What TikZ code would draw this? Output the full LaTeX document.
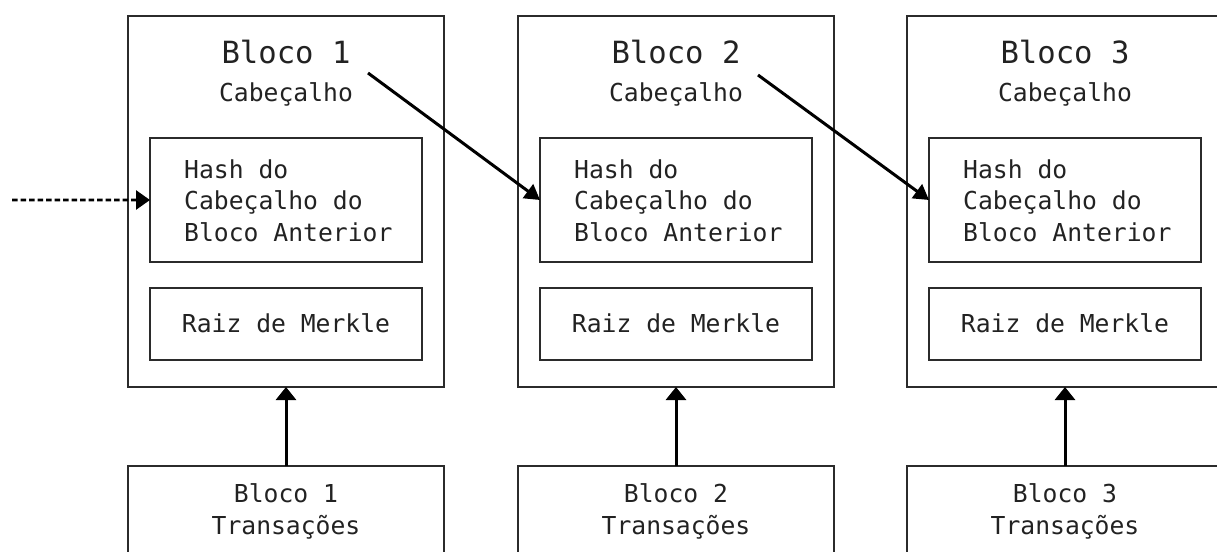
\documentclass[tikz,border=0pt]{standalone}
\usepackage{fontspec}
\setmonofont{DejaVu Sans Mono}
\usetikzlibrary{arrows.meta}
\definecolor{edge}{HTML}{2B2B2B}
\definecolor{ink}{HTML}{222222}
\begin{document}
\begin{tikzpicture}[x=1bp,y=-1bp,
  boxsty/.style={draw=edge,line width=1.8bp,inner sep=0pt,outer sep=0pt,anchor=north west},
  txt/.style={text=ink,inner sep=0pt,font=\ttfamily\fontsize{24.7bp}{31.5bp}\selectfont},
  headtxt/.style={txt,font=\ttfamily\fontsize{30.6bp}{36bp}\selectfont},
  chainarrow/.style={draw=black,line width=3bp,-{Triangle[length=15bp,width=17bp]}},
  txarrow/.style={draw=black,line width=3bp,-{Triangle[length=13bp,width=20bp]}},
  prevarrow/.style={draw=black,line width=2.8bp,dash pattern=on 5.5bp off 3bp,-{Triangle[length=14bp,width=19bp]}}]
\useasboundingbox (0,0) rectangle (1217,552);
\clip (0,0) rectangle (1217,552);

% one block header with its transactions box below
\foreach \i/\L in {1/128,2/518,3/907} {
  \node[boxsty,minimum width=316bp,minimum height=371bp] (blk\i) at (\L,16) {};
  \node[headtxt,anchor=base] (ttl\i) at (\L+158,64) {Bloco \i};
  \node[txt,anchor=base] (cab\i) at (\L+158,102) {Cabeçalho};
  \node[boxsty,minimum width=272bp,minimum height=124bp] (hash\i) at (\L+22,138) {};
  \node[txt,anchor=north west,align=left] (hashtxt\i) at (\L+56,159.5) {Hash do\\Cabeçalho do\\Bloco Anterior};
  \node[boxsty,minimum width=272bp,minimum height=72bp] (root\i) at (\L+22,288) {};
  \node[txt,anchor=base] (roottxt\i) at (\L+158,333) {Raiz de Merkle};
  \node[boxsty,minimum width=316bp,minimum height=130bp] (tx\i) at (\L,466) {};
  \node[txt,anchor=north,align=center] (txtxt\i) at (\L+158,483.5) {Bloco \i\\Transações};
  \draw[txarrow] (tx\i.north) -- (blk\i.south);
}

% links from each header to the next block's previous-hash field
\coordinate (from1) at (368,73);
\coordinate (from2) at (758,75);
\draw[chainarrow] (from1) -- (hash2.west);
\draw[chainarrow] (from2) -- (hash3.west);

% link coming from an earlier block
\coordinate (genesis) at (12,200);
\draw[prevarrow] (genesis) -- (hash1.west);
\end{tikzpicture}
\end{document}
